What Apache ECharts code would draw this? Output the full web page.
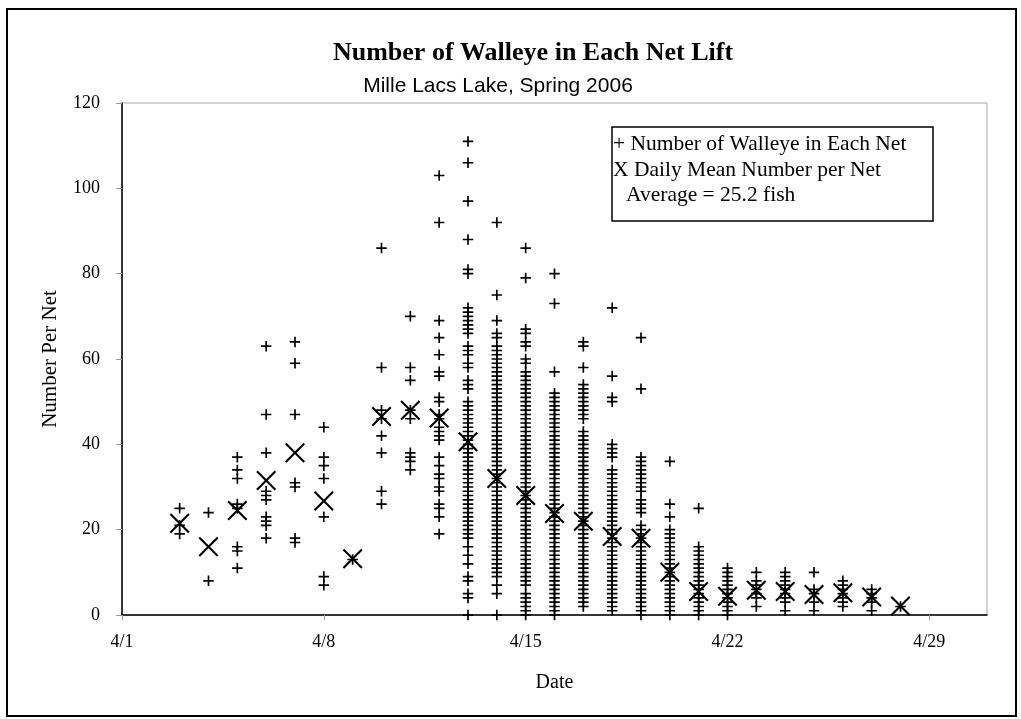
<!DOCTYPE html>
<html><head><meta charset="utf-8">
<script src="https://cdn.jsdelivr.net/npm/echarts@6/dist/echarts.min.js"></script>
<style>html,body{margin:0;padding:0;background:#fff}#c{width:1021px;height:719px}</style>
</head><body><div id="c"></div>
<script>
// ---- Data ----
const dates = ['4/3','4/4','4/5','4/6','4/7','4/8','4/9','4/10','4/11','4/12','4/13','4/14','4/15','4/16','4/17','4/18','4/19','4/20','4/21','4/22','4/23','4/24','4/25','4/26','4/27','4/28'];
const net_0403 = [25,21,19];
const net_0404 = [24,8];
const net_0405 = [37,34,32,26,25,16,15,11];
const net_0406 = [63,47,38,29,28,27,23,22,21,18];
const net_0407 = [64,59,47,31,30,18,17];
const net_0408 = [44,37,35,32,23,9,7];
const net_0409 = [13];
const net_0410 = [86,58,48,46,42,38,29,26];
const net_0411 = [70,58,55,48,46,38,37,36,34];
const net_0412 = [103,92,69,65,61,57,56,51,50,47,46,44,43,42,41,37,35,33,32,30,29,26,25,23,19];
const net_0413 = [111,106,97,88,81,80,72,71,70,69,68,67,66,63,62,61,59,58,55,54,53,50,49,48,47,46,45,44,43,42,41,40,39,38,37,36,35,34,33,32,31,30,29,28,27,26,25,24,23,22,21,20,19,18,16,14,12,9,8,5,4,0];
const net_0414 = [92,75,69,66,65,63,62,61,60,59,58,57,56,55,54,53,52,51,50,49,48,47,46,45,44,43,42,41,40,39,38,37,36,35,34,33,32,31,30,29,28,27,26,25,24,23,22,21,20,19,18,17,16,15,14,13,12,11,10,9,7,5,0];
const net_0415 = [86,79,67,66,64,63,60,59,57,56,55,54,53,52,51,50,49,48,47,46,45,44,43,42,41,40,39,38,37,36,35,34,33,32,31,30,29,28,27,26,25,24,23,22,21,20,19,18,17,16,15,14,13,12,11,10,9,8,7,5,4,3,2,1,0];
const net_0416 = [80,73,57,52,51,50,49,48,47,46,45,44,43,42,41,40,39,38,37,36,35,34,33,32,31,30,29,28,27,26,25,24,23,22,21,20,19,18,17,16,15,14,13,12,11,10,9,8,7,6,5,4,3,2,1,0];
const net_0417 = [64,63,58,54,53,52,51,50,49,48,47,46,43,42,41,40,39,38,37,36,35,34,33,32,31,30,29,28,27,26,25,24,23,22,21,20,19,18,17,16,15,14,13,12,11,10,9,8,7,6,5,4,3,2];
const net_0418 = [72,56,51,50,40,39,38,37,34,33,32,31,30,29,28,27,26,25,24,23,22,21,20,19,18,17,16,15,14,13,12,11,10,9,8,7,6,5,4,3,2,1];
const net_0419 = [65,53,37,36,35,34,33,32,31,30,29,27,26,25,24,21,20,19,18,17,16,15,14,13,12,11,10,9,8,7,6,5,4,3,2,1,0];
const net_0420 = [36,26,23,20,19,18,17,16,15,14,13,12,11,10,9,8,7,6,5,4,3,2,1,0];
const net_0421 = [25,16,15,14,13,12,11,10,9,8,7,6,5,4,3,2,1,0];
const net_0422 = [11,10,9,8,7,6,5,4,3,2,1,0];
const net_0423 = [10,8,7,6,5,4,2];
const net_0424 = [10,9,8,7,6,5,4,3,1];
const net_0425 = [10,6,5,3,1];
const net_0426 = [8,7,6,5,4,3,2];
const net_0427 = [6,5,4,3,1];
const net_0428 = [2];
const dailyMean = [21.5,16,24.5,31.5,38,26.7,13.2,46.5,48,46.2,40.6,32,28,23.8,22,18.4,18,10,5.5,4.4,5.8,5.5,4.8,5.2,4.2,2.1];
const xTickLabels = ['4/1','4/8','4/15','4/22','4/29'];

// ---- Build series data ----
const nets = [net_0403,net_0404,net_0405,net_0406,net_0407,net_0408,net_0409,net_0410,net_0411,net_0412,net_0413,net_0414,net_0415,net_0416,net_0417,net_0418,net_0419,net_0420,net_0421,net_0422,net_0423,net_0424,net_0425,net_0426,net_0427,net_0428];
const dayIdx = d => parseInt(d.split('/')[1], 10) - 1; // days since 4/1
const netPts = [];
dates.forEach((d, i) => nets[i].forEach(v => netPts.push([dayIdx(d), v])));
const meanPts = dates.map((d, i) => [dayIdx(d), dailyMean[i]]);

const PLUS = 'path://M4.2,0L5.8,0L5.8,4.2L10,4.2L10,5.8L5.8,5.8L5.8,10L4.2,10L4.2,5.8L0,5.8L0,4.2L4.2,4.2Z';
const XMARK = 'path://M0,0.75L0.75,0L5,4.25L9.25,0L10,0.75L5.75,5L10,9.25L9.25,10L5,5.75L0.75,10L0,9.25L4.25,5Z';
const serif = 'Liberation Serif';

const chart = echarts.init(document.getElementById('c'), null, {renderer: 'canvas'});
chart.setOption({
  animation: false,
  backgroundColor: '#fff',
  textStyle: {fontFamily: serif, color: '#000'},
  grid: {left: 122, right: 34, top: 103, bottom: 104, show: true, borderColor: '#a6a6a6', borderWidth: 1},
  xAxis: {
    type: 'value', min: 0, max: 30, interval: 7,
    name: 'Date', nameLocation: 'middle', nameGap: 58,
    nameTextStyle: {fontFamily: serif, fontSize: 20, color: '#000'},
    axisLine: {show: true, onZero: false, lineStyle: {color: '#000', width: 1.5}},
    axisTick: {show: true, length: 5, lineStyle: {color: '#999'}},
    axisLabel: {fontFamily: serif, fontSize: 18, color: '#000', margin: 18,
      showMaxLabel: false,
      formatter: v => (v % 7 === 0 ? xTickLabels[v / 7] : '')},
    splitLine: {show: false}
  },
  yAxis: {
    type: 'value', min: 0, max: 120, interval: 20,
    name: 'Number Per Net', nameLocation: 'middle', nameGap: 61,
    nameTextStyle: {fontFamily: serif, fontSize: 21, color: '#000'},
    axisLine: {show: true, onZero: false, lineStyle: {color: '#000', width: 1.5}},
    axisTick: {show: true, length: 6, lineStyle: {color: '#999'}},
    axisLabel: {fontFamily: serif, fontSize: 18, color: '#000', margin: 22},
    splitLine: {show: false}
  },
  series: [
    {type: 'scatter', name: 'Number of Walleye in Each Net', data: netPts,
     symbol: PLUS, symbolSize: 10.5, itemStyle: {color: '#000', opacity: 1}, silent: true, z: 2},
    {type: 'scatter', name: 'Daily Mean Number per Net', data: meanPts,
     symbol: XMARK, symbolSize: 20, itemStyle: {color: '#000', opacity: 1}, silent: true, z: 3}
  ],
  graphic: [
    {type: 'rect', shape: {x: 7, y: 9, width: 1009, height: 707}, style: {fill: 'none', stroke: '#000', lineWidth: 2}, z: -1, silent: true},
    {type: 'text', x: 533, y: 53, style: {text: 'Number of Walleye in Each Net Lift', font: 'bold 26px "Liberation Serif"', fill: '#000', align: 'center', verticalAlign: 'middle'}},
    {type: 'text', x: 498, y: 86, style: {text: 'Mille Lacs Lake, Spring 2006', font: '21px "Liberation Sans"', fill: '#000', align: 'center', verticalAlign: 'middle'}},
    {type: 'rect', shape: {x: 612, y: 127, width: 321, height: 94}, style: {fill: '#fff', stroke: '#000', lineWidth: 1.5}, z: 10},
    {type: 'text', x: 613, y: 144, z: 11, style: {text: '+ Number of Walleye in Each Net', font: '21.5px "Liberation Serif"', fill: '#000', align: 'left', verticalAlign: 'middle'}},
    {type: 'text', x: 613, y: 170, z: 11, style: {text: 'X Daily Mean Number per Net', font: '21.5px "Liberation Serif"', fill: '#000', align: 'left', verticalAlign: 'middle'}},
    {type: 'text', x: 626, y: 195, z: 11, style: {text: 'Average = 25.2 fish', font: '21.5px "Liberation Serif"', fill: '#000', align: 'left', verticalAlign: 'middle'}}
  ]
});
</script>
</body></html>
